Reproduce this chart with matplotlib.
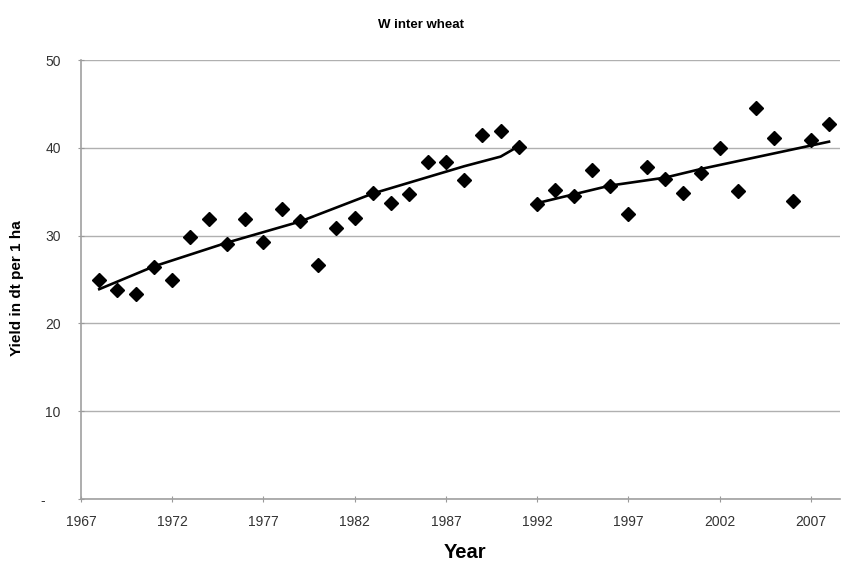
import matplotlib
matplotlib.use("Agg")
import matplotlib.pyplot as plt

plt.rcParams["font.family"] = ["Liberation Sans", "DejaVu Sans"]

# Observed yields (dt per ha)
years = list(range(1968, 2009))
yields = [25.0, 23.8, 23.3, 26.4, 24.9, 29.8, 31.9, 29.0, 31.9, 29.3,
          33.0, 31.7, 26.7, 30.9, 32.0, 34.9, 33.7, 34.7, 38.4, 38.4,
          36.3, 41.5, 41.9, 40.1, 33.6, 35.2, 34.5, 37.5, 35.6, 32.5,
          37.8, 36.5, 34.9, 37.1, 40.0, 35.1, 44.5, 41.1, 33.9, 40.9,
          42.7]

# Trend lines
trend1_years = [1968, 1971, 1975, 1979, 1983, 1988, 1990, 1991]
trend1_vals = [23.9, 26.5, 29.2, 31.6, 34.8, 37.9, 39.0, 40.2]
trend2_years = [1992, 1996, 1999, 2001, 2008]
trend2_vals = [33.7, 35.7, 36.6, 37.6, 40.7]

xticks = [1967, 1972, 1977, 1982, 1987, 1992, 1997, 2002, 2007]
yticks = [0, 10, 20, 30, 40, 50]
ytick_labels = ["-    ", "10", "20", "30", "40", "50"]

fig = plt.figure(figsize=(8.42, 5.61), dpi=100)
ax = fig.add_axes([0.0962, 0.1105, 0.9014, 0.7825])

ax.plot(years, yields, linestyle="none", marker="D", markersize=7,
        color="black", zorder=3)
ax.plot(trend1_years, trend1_vals, color="black", linewidth=1.9, zorder=2)
ax.plot(trend2_years, trend2_vals, color="black", linewidth=1.9, zorder=2)

ax.set_xlim(1967, 2008.6)
ax.set_ylim(0, 50)
ax.set_xticks(xticks)
ax.set_yticks(yticks)
ax.set_yticklabels(ytick_labels)
ax.tick_params(axis="both", labelsize=10, colors="#999999", labelcolor="#333333",
               length=5, direction="inout")
ax.tick_params(axis="x", pad=9)
ax.tick_params(axis="y", pad=12)

ax.grid(axis="y", color="#b0b0b0", linewidth=1)
ax.set_axisbelow(True)
for side in ["top", "right"]:
    ax.spines[side].set_visible(False)
for side in ["left", "bottom"]:
    ax.spines[side].set_color("#a0a0a0")
    ax.spines[side].set_linewidth(1.2)

fig.text(0.5, 0.955, "W inter wheat", ha="center", va="center",
         fontsize=9.5, fontweight="bold")
fig.text(0.020, 0.487, "Yield in dt per 1 ha", rotation=90, ha="center",
         va="center", fontsize=11, fontweight="bold")
fig.text(0.552, 0.016, "Year", ha="center", va="center",
         fontsize=14.5, fontweight="bold")

fig.savefig("out.png", dpi=100)
